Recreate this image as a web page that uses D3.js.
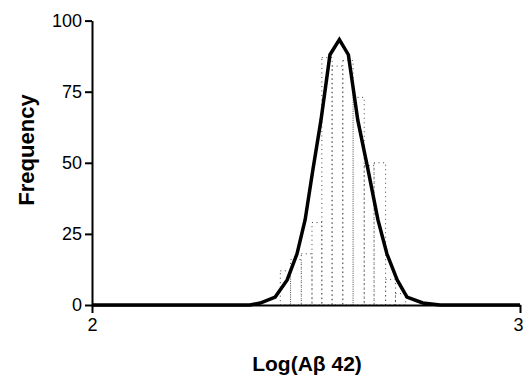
<!DOCTYPE html>
<html>

<head>
    <meta charset="UTF-8" />
    <title>log abeta42 histogram</title>
    <style>
        body {
            margin: 0;
            padding: 0;
            background-color: #fff;
            font-family: 'Liberation Sans', Arial, Helvetica, sans-serif;
        }

        svg {
            display: block;
        }
    </style>
</head>

<body>
    <div class="container"></div>

    <script src="https://cdnjs.cloudflare.com/ajax/libs/d3/7.8.5/d3.min.js"></script>
    <script>
        const w = 523;
        const h = 379;

        // values
        const xTicks = [2, 3];
        const yTicks = [0, 25, 50, 75, 100];

        const binEdges = [2.44, 2.464, 2.489, 2.514, 2.537, 2.561, 2.586, 2.610, 2.636, 2.659, 2.686, 2.709, 2.733];
        const binCounts = [12, 16, 18, 29, 87, 84, 86, 73, 49, 50, 9, 4];

        const fitX = [2.0, 2.369, 2.393, 2.428, 2.456, 2.479, 2.498, 2.516, 2.535, 2.556, 2.578, 2.599, 2.621, 2.645, 2.668, 2.689, 2.713, 2.736, 2.773, 2.813, 3.0];
        const fitY = [0, 0, 0.7, 2.8, 8.8, 18, 30, 47.5, 65, 88, 93.3, 88, 65, 47.5, 30, 18, 8.8, 2.8, 0.7, 0, 0];

        const svg = d3.select(".container").append('svg')
            .attr('width', w)
            .attr('height', h)

        const xScale = d3.scaleLinear().domain([2, 3]).range([92, 520]);
        const yScale = d3.scaleLinear().domain([0, 100]).range([305, 20.6]);

        // dotted histogram bars (faint, like the scan)
        const bins = binCounts.map((c, i) => ({ x0: binEdges[i], x1: binEdges[i + 1], c: c }));

        svg.append('g')
            .selectAll('rect')
            .data(bins)
            .join('rect')
            .attr('x', d => xScale(d.x0))
            .attr('y', d => yScale(d.c))
            .attr('width', d => xScale(d.x1) - xScale(d.x0))
            .attr('height', d => yScale(0) - yScale(d.c))
            .attr('fill', 'none')
            .attr('stroke', '#444')
            .attr('stroke-width', 1)
            .attr('stroke-dasharray', '1 3.5')

        // axes
        svg.append('g')
            .attr('transform', `translate(${xScale(2)},0)`)
            .call(d3.axisLeft(yScale).tickValues(yTicks).tickSize(7).tickSizeOuter(0).tickPadding(3))

        const xAxis = svg.append('g')
            .attr('transform', `translate(0,${yScale(0)})`)
            .call(d3.axisBottom(xScale).tickValues(xTicks).tickFormat(d3.format('d'))
                .tickSize(8).tickSizeOuter(0).tickPadding(5))

        // last label sits at the right edge, keep it inside the page
        xAxis.selectAll('.tick text')
            .filter(d => d === 3)
            .attr('text-anchor', 'end')
            .attr('x', 3)

        svg.selectAll('.domain, .tick line')
            .attr('stroke', '#000')
            .attr('stroke-width', 2)

        svg.selectAll('.tick text')
            .attr('fill', '#000')
            .style('font-family', "'Liberation Sans', Arial, sans-serif")
            .style('font-size', '18px')

        // fitted curve
        const lineGen = d3.line()
            .x(d => xScale(d[0]))
            .y(d => yScale(d[1]))

        svg.append('path')
            .attr('d', lineGen(d3.zip(fitX, fitY)))
            .attr('stroke', '#000')
            .attr('stroke-width', 3.5)
            .attr('stroke-linejoin', 'miter')
            .attr('fill', 'none')

        // titles
        svg.append('text')
            .attr('x', 307)
            .attr('y', 371)
            .attr('text-anchor', 'middle')
            .style('font-size', '21px')
            .style('font-weight', 'bold')
            .text('Log(Aβ 42)')

        svg.append('text')
            .attr('transform', 'translate(34,150) rotate(-90)')
            .attr('text-anchor', 'middle')
            .style('font-size', '22px')
            .style('font-weight', 'bold')
            .text('Frequency')
    </script>
</body>

</html>
